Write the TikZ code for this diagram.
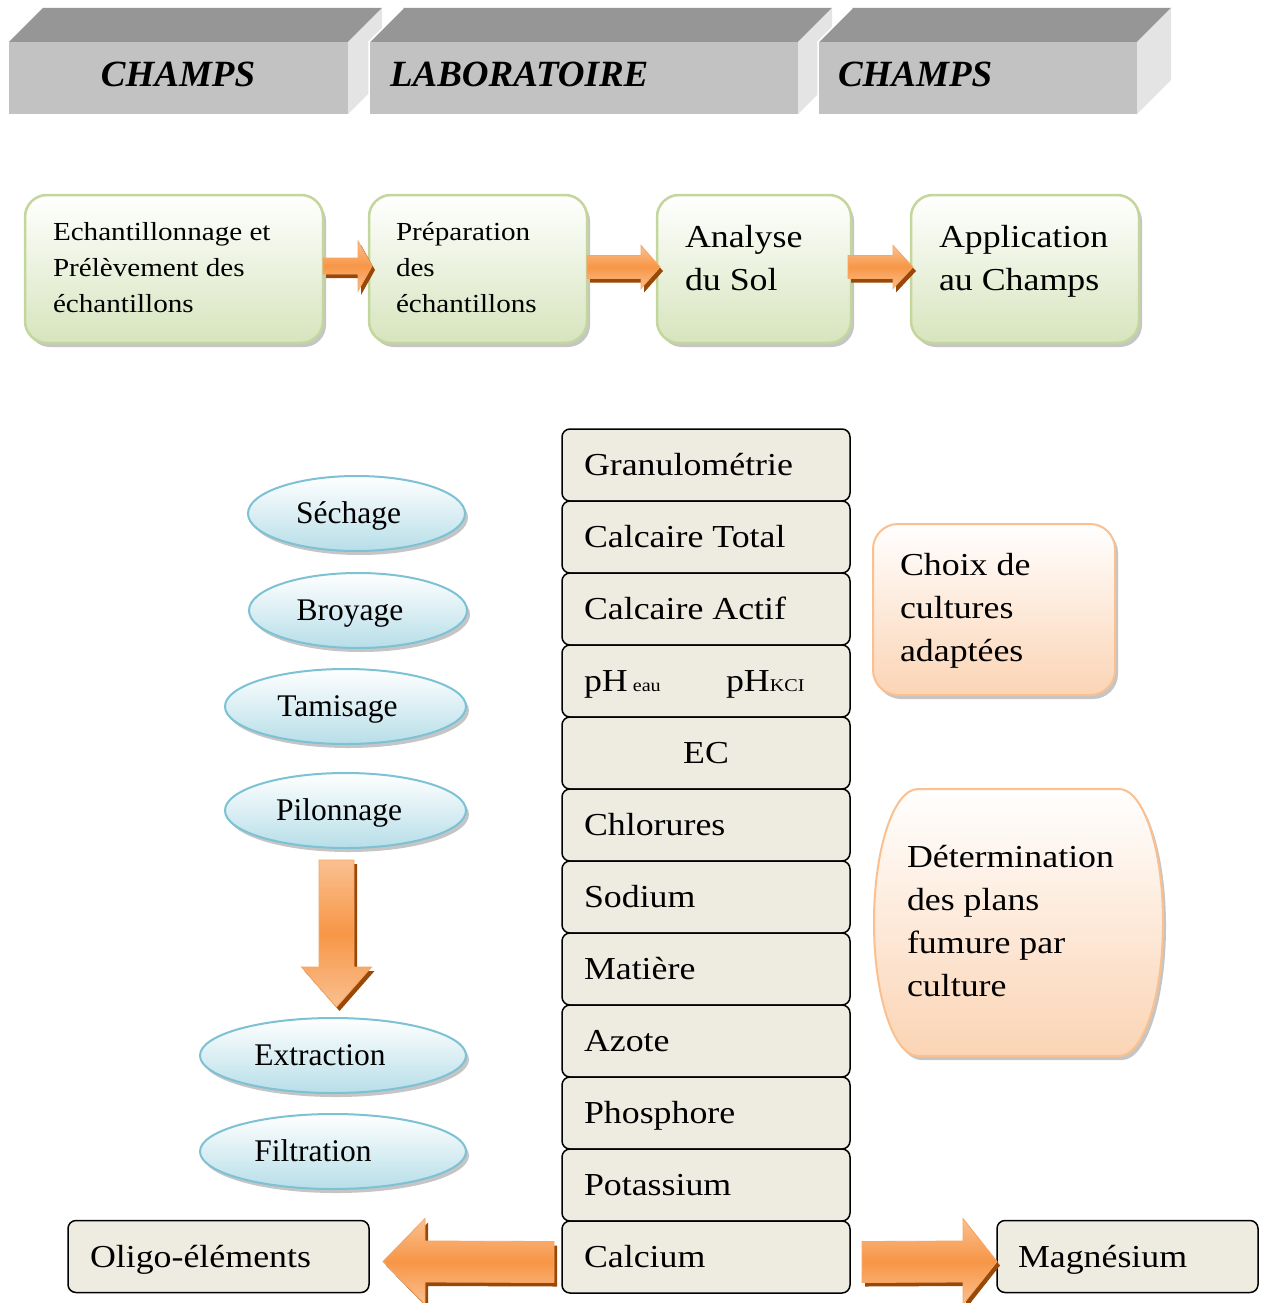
\documentclass[tikz,border=0pt]{standalone}
\usepackage[T1]{fontenc}
\usepackage{fontspec}
\usetikzlibrary{shapes.geometric,shadows,calc}
\newfontfamily\tnr{Liberation Serif}
\def\libpal{\newfontfamily\palf{Liberation Serif}[FakeStretch=1.12]}
\IfFileExists{t1qpl.fd}{\newcommand\palf{\fontencoding{T1}\fontfamily{qpl}\selectfont}}{%
  \IfFileExists{uplr8a.pfb}{\IfFileExists{t1ppl.fd}{\newcommand\palf{\fontencoding{T1}\fontfamily{ppl}\selectfont}}{\libpal}}{\libpal}}
\newcommand\vlines[1]{\vtop{\let\\\cr\halign{##\hfil\cr#1\crcr}}}
\definecolor{grnB}{RGB}{195,214,155}
\definecolor{grnF}{RGB}{215,228,189}
\definecolor{bluB}{RGB}{125,193,213}
\definecolor{bluF}{RGB}{183,222,232}
\definecolor{orB}{RGB}{250,192,144}
\definecolor{orF}{RGB}{251,212,180}
\definecolor{arrM}{RGB}{247,150,70}
\definecolor{arrL}{RGB}{250,192,144}
\definecolor{arrS}{RGB}{152,72,7}
\definecolor{colF}{RGB}{238,236,225}
\definecolor{hTop}{RGB}{150,150,150}
\definecolor{hFront}{RGB}{194,194,194}
\definecolor{hSide}{RGB}{228,228,228}
\newcommand\harr[5]{%
  \path[arrsty] ($(#1)+(0,-#3)$) -- ($(#2)+({-(#5)},-#3)$) -- ($(#2)+({-(#5)},-#4)$) -- (#2)
    -- ($(#2)+({-(#5)},#4)$) -- ($(#2)+({-(#5)},#3)$) -- ($(#1)+(0,#3)$) -- cycle;}
\begin{document}
\begin{tikzpicture}[x=1pt,y=-1pt,
  every node/.style={inner sep=0pt,outer sep=0pt},
  hfront/.style={fill=hFront,minimum height=72pt},
  hdr/.style={font=\tnr\bfseries\itshape\fontsize{37}{42}\selectfont,anchor=base},
  gbox/.style={draw=grnB,line width=2.5pt,rounded corners=22pt,top color=white,bottom color=grnF,
    minimum height=148pt,drop shadow={shadow xshift=3pt,shadow yshift=-4pt,fill=black!45,opacity=.5}},
  ell/.style={ellipse,draw=bluB,line width=2pt,top color=white,bottom color=bluF,minimum height=75pt,
    drop shadow={shadow xshift=3pt,shadow yshift=-4pt,fill=black!45,opacity=.5}},
  colbox/.style={draw=black,line width=1.5pt,rounded corners=8pt,fill=colF,minimum width=288pt,minimum height=72pt},
  obox/.style={draw=orB,line width=2pt,top color=white,bottom color=orF,
    drop shadow={shadow xshift=3pt,shadow yshift=-4pt,fill=black!45,opacity=.5}},
  arrsty/.style={top color=arrL,bottom color=arrL,middle color=arrM,draw=arrM!85!white,line width=0.8pt,
    drop shadow={shadow xshift=3pt,shadow yshift=-4pt,fill=arrS,opacity=1}},
  pal26/.style={font=\palf\fontsize{26}{36}\selectfont,anchor=base west},
  pal32/.style={font=\palf\fontsize{32}{43}\selectfont,anchor=base west},
  tms/.style={font=\tnr\fontsize{31.5}{36}\selectfont,anchor=base}]
\useasboundingbox (0,0) rectangle (1261,1303);
\fill[white] (0,0) rectangle (1261,1303);

% ---- header blocks
\node[hfront,minimum width=339pt] (h1) at (178.5,78) {};
\fill[hTop] (h1.north west) -- ++(34,-34) -- ++(339,0) -- (h1.north east) -- cycle;
\fill[hSide] (h1.north east) -- ++(34,-34) -- ++(0,72) -- (h1.south east) -- cycle;
\node[hfront,minimum width=429pt] (h2) at (583.5,78) {};
\fill[hTop] (h2.north west) -- ++(34,-34) -- ++(429,0) -- (h2.north east) -- cycle;
\fill[hSide] (h2.north east) -- ++(34,-34) -- ++(0,72) -- (h2.south east) -- cycle;
\draw[white,line width=1.5pt] (h2.south west) -- (h2.north west) -- ++(34,-34);
\node[hfront,minimum width=319pt] (h3) at (977.5,78) {};
\fill[hTop] (h3.north west) -- ++(34,-34) -- ++(319,0) -- (h3.north east) -- cycle;
\fill[hSide] (h3.north east) -- ++(34,-34) -- ++(0,72) -- (h3.south east) -- cycle;
\draw[white,line width=1.5pt] (h3.south west) -- (h3.north west) -- ++(34,-34);
\node[hdr] (ht1) at (178,87) {CHAMPS};
\node[hdr,anchor=base west] (ht2) at (390,87) {LABORATOIRE};
\node[hdr,anchor=base west] (ht3) at (838,87) {CHAMPS};

% ---- top row
\node[gbox,minimum width=298pt] (g1) at (174,269) {};
\node[gbox,minimum width=218pt] (g2) at (478,269) {};
\node[gbox,minimum width=194pt] (g3) at (754,269) {};
\node[gbox,minimum width=228pt] (g4) at (1025,269) {};
\node[pal26] (gt1) at (53,240) {\vlines{Echantillonnage et\\Prélèvement des\\échantillons}};
\node[pal26] (gt2) at (396,240) {\vlines{Préparation\\des\\échantillons}};
\node[pal32] (gt3) at (685,247) {\vlines{Analyse\\du Sol}};
\node[pal32] (gt4) at (939,247) {\vlines{Application\\au Champs}};
\coordinate (a1s) at ($(g1.east)+(0,-3)$);
\coordinate (a1e) at ($(g2.west)+(3,-3)$);
\harr{a1s}{a1e}{8}{25}{14}
\coordinate (a2s) at ($(g2.east)+(0,-2)$);
\coordinate (a2e) at ($(g3.west)+(3,-2)$);
\harr{a2s}{a2e}{11.5}{21.5}{19}
\coordinate (a3s) at ($(g3.east)+(-3,-2)$);
\coordinate (a3e) at ($(g4.west)+(2,-2)$);
\harr{a3s}{a3e}{11.5}{21.5}{20}

% ---- preparation steps
\node[ell,minimum width=217pt] (e1) at (356.5,513.5) {};
\node[ell,minimum width=218pt] (e2) at (358,610.5) {};
\node[ell,minimum width=241pt] (e3) at (345.5,706.5) {};
\node[ell,minimum width=241pt] (e4) at (345.5,810.5) {};
\node[ell,minimum width=266pt] (e5) at (333,1055.5) {};
\node[ell,minimum width=266pt] (e6) at (333,1151.5) {};
\node[tms] (et1) at (348.5,523) {Séchage};
\node[tms] (et2) at (350,620) {Broyage};
\node[tms] (et3) at (337.5,716) {Tamisage};
\node[tms] (et4) at (339,820.5) {Pilonnage};
\node[tms] (et5) at (320,1065) {Extraction};
\node[tms] (et6) at (313,1161) {Filtration};
\coordinate (v1) at ($(e4.south)+(-9,12)$);
\coordinate (v2) at ($(e5.north)+(3.5,-11)$);
\path[arrsty] ($(v1)+(-17.5,0)$) -- ($(v2)+(-17.5,-40)$) -- ($(v2)+(-35,-40)$) -- (v2)
  -- ($(v2)+(35,-40)$) -- ($(v2)+(17.5,-40)$) -- ($(v1)+(17.5,0)$) -- cycle;

% ---- analyses column
\foreach \i in {1,...,12}{\node[colbox] (c\i) at (706,{465+72*(\i-1)}) {};}
\node[pal32] (ct1) at (584,475) {Granulométrie};
\node[pal32] (ct2) at (584,547) {Calcaire Total};
\node[pal32] (ct3) at (584,619) {Calcaire Actif};
\node[pal32] (ct4a) at (584,691) {pH\hspace{5pt}{\fontsize{18}{18}\selectfont eau}};
\node[pal32] (ct4b) at (726,691) {pH{\fontsize{18}{18}\selectfont KCI}};
\node[pal32,anchor=base] (ct5) at (706,763) {EC};
\node[pal32] (ct6) at (584,835) {Chlorures};
\node[pal32] (ct7) at (584,907) {Sodium};
\node[pal32] (ct8) at (584,979) {Matière};
\node[pal32] (ct9) at (584,1051) {Azote};
\node[pal32] (ct10) at (584,1123) {Phosphore};
\node[pal32] (ct11) at (584,1195) {Potassium};
\node[pal32] (ct12) at (584,1267) {Calcium};

% ---- bottom boxes and arrows
\node[colbox,minimum width=301pt] (ol) at (218.5,1256.5) {};
\node[colbox,minimum width=261pt] (mg) at (1127.5,1256.5) {};
\node[pal32] (olt) at (90,1267) {Oligo-éléments};
\node[pal32] (mgt) at (1018,1267) {Magnésium};
\coordinate (la1) at ($(c12.west)+(-8,5)$);
\coordinate (la2) at ($(ol.east)+(14,5)$);
\harr{la1}{la2}{20.5}{43}{-42}
\coordinate (ra1) at ($(c12.east)+(12,5)$);
\coordinate (ra2) at ($(mg.west)+(0,5)$);
\harr{ra1}{ra2}{20.5}{43}{34}

% ---- right side
\node[obox,rounded corners=25pt,minimum width=242pt,minimum height=171pt] (ch) at (994,609.5) {};
\node[pal32] (cht) at (900,575) {\vlines{Choix de\\cultures\\adaptées}};
\path[obox] (918,789) -- (1119,789) .. controls (1143.3,789) and (1163,848.8) .. (1163,922.5)
  .. controls (1163,996.2) and (1143.3,1056) .. (1119,1056) -- (918,1056)
  .. controls (893.7,1056) and (874,996.2) .. (874,922.5)
  .. controls (874,848.8) and (893.7,789) .. (918,789) -- cycle;
\node[pal32] (dtt) at (907,867) {\vlines{Détermination\\des plans\\fumure par\\culture}};
\end{tikzpicture}
\end{document}
